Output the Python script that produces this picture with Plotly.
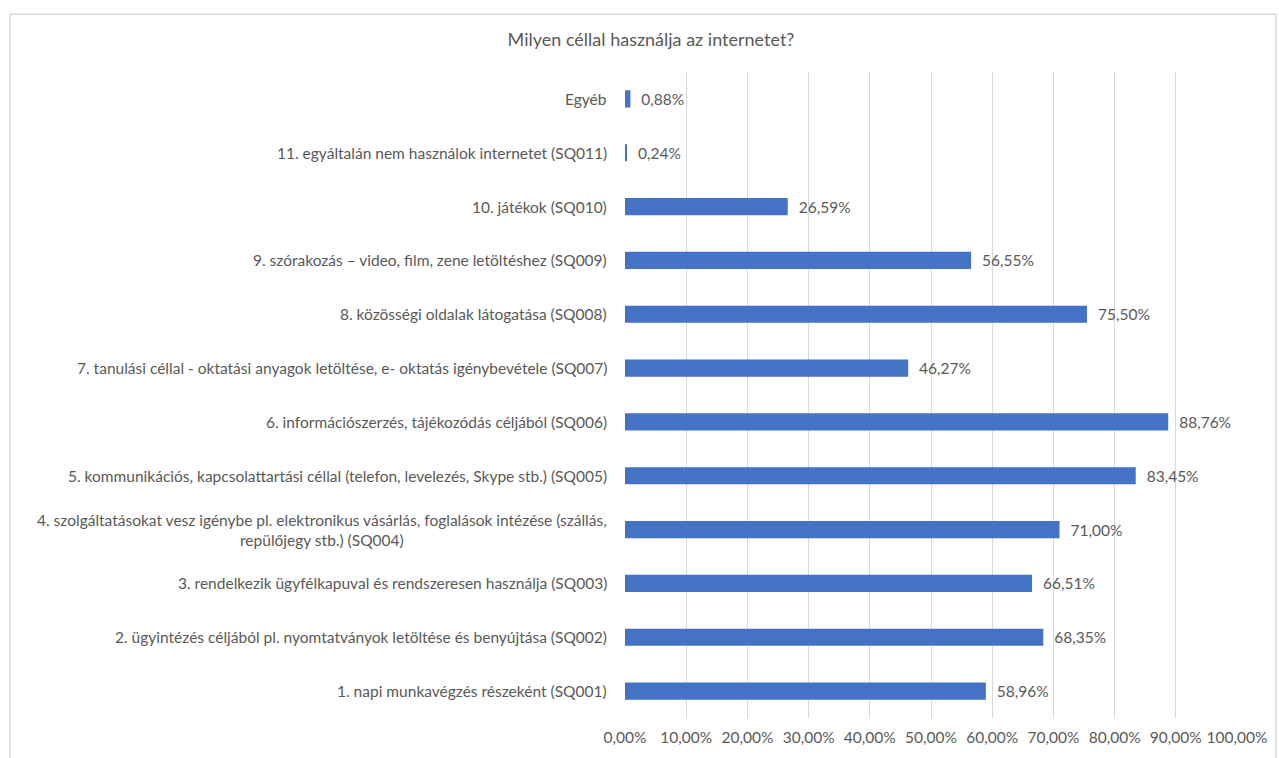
import plotly.graph_objects as go

# Kategóriák alulról felfelé
kategoriak = [
    "1. napi munkavégzés részeként (SQ001)",
    "2. ügyintézés céljából pl. nyomtatványok letöltése és benyújtása (SQ002)",
    "3. rendelkezik ügyfélkapuval és rendszeresen használja (SQ003)",
    "4. szolgáltatásokat vesz igénybe pl. elektronikus vásárlás, foglalások intézése (szállás,<br>repülőjegy stb.) (SQ004)",
    "5. kommunikációs, kapcsolattartási céllal (telefon, levelezés, Skype stb.) (SQ005)",
    "6. információszerzés, tájékozódás céljából (SQ006)",
    "7. tanulási céllal - oktatási anyagok letöltése, e- oktatás igénybevétele (SQ007)",
    "8. közösségi oldalak látogatása (SQ008)",
    "9. szórakozás – video, film, zene letöltéshez (SQ009)",
    "10. játékok (SQ010)",
    "11. egyáltalán nem használok internetet (SQ011)",
    "Egyéb",
]
ertekek = [58.96, 68.35, 66.51, 71.00, 83.45, 88.76, 46.27, 75.50, 56.55, 26.59, 0.24, 0.88]
tick_ertekek = [0, 0.1, 0.2, 0.3, 0.4, 0.5, 0.6, 0.7, 0.8, 0.9, 1.0]

szurke = "#595959"
betu = "Lato"

fig = go.Figure()
fig.add_trace(go.Bar(
    x=[v / 100 for v in ertekek],
    y=kategoriak,
    orientation="h",
    width=0.32,
    marker=dict(color="#4472C4", line=dict(width=0)),
    texttemplate="\u00a0\u00a0%{x:.2%}",
    textposition="outside",
    constraintext="none",
    textfont=dict(family=betu, size=15.5, color=szurke),
    cliponaxis=False,
))

# kategória feliratok középre igazítva (a többsoros miatt)
for k in kategoriak:
    fig.add_annotation(x=-0.026, y=k, xref="paper", yref="y", text=k, showarrow=False,
                       xanchor="right", align="center",
                       font=dict(family=betu, size=15.5, color=szurke))

# keret a diagram körül
fig.add_shape(type="rect", xref="paper", yref="paper",
              x0=-1.0049, x1=1.0635, y0=-0.08, y1=1.0895,
              line=dict(color="#D9D9D9", width=1.5))

fig.update_layout(
    width=1279, height=758,
    margin=dict(l=625, r=40, t=72, b=28),
    paper_bgcolor="white", plot_bgcolor="white",
    separators=", ",
    showlegend=False,
    title=dict(text="Milyen céllal használja az internetet?", x=651 / 1279, xanchor="center",
               y=1 - 40 / 758, yanchor="middle",
               font=dict(family=betu, size=18, color=szurke)),
    xaxis=dict(range=[0, 1], tickvals=tick_ertekek, tickformat=".2%",
               showgrid=True, gridcolor="#D9D9D9", gridwidth=1, zeroline=False,
               showline=False, ticks="", ticklabelstandoff=8,
               tickfont=dict(family=betu, size=15.5, color=szurke)),
    yaxis=dict(showticklabels=False, showgrid=False, zeroline=False, showline=False,
               range=[-0.5, 11.5]),
)

fig.write_html("out.html", config={"displayModeBar": False},
               post_script="document.body.style.margin='0';document.body.style.overflow='hidden';")
